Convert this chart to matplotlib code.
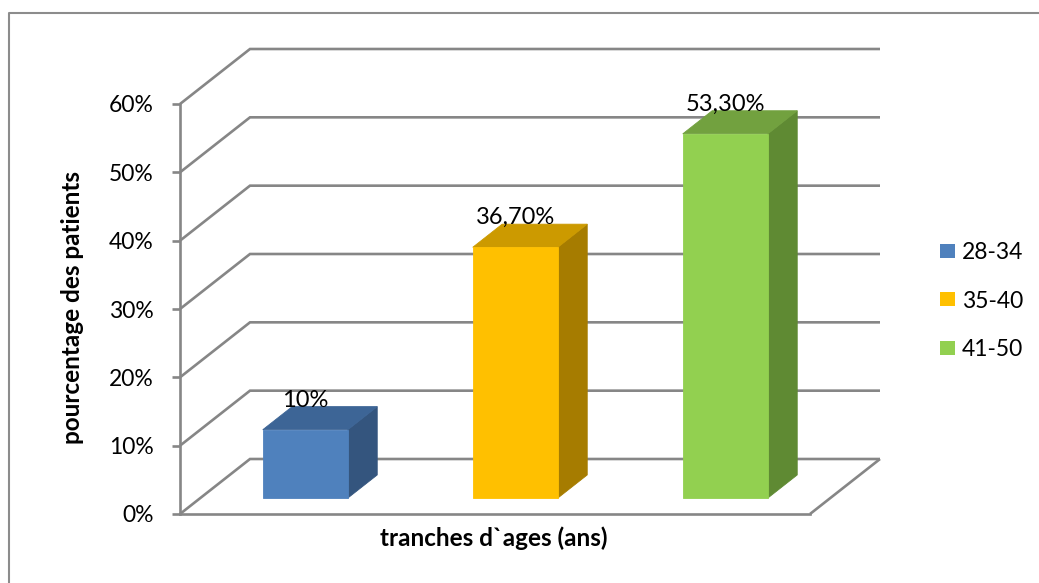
import matplotlib
matplotlib.use("Agg")
import matplotlib.pyplot as plt
from matplotlib.patches import Polygon, Patch
from matplotlib.lines import Line2D
from matplotlib.ticker import FixedLocator
import numpy as np

# ---- data ----
categories = ["28-34", "35-40", "41-50"]
values = [0.10, 0.367, 0.533]
value_labels = ["10%", "36,70%", "53,30%"]
y_ticks = [0.0, 0.1, 0.2, 0.3, 0.4, 0.5, 0.6]
y_tick_labels = ["0%", "10%", "20%", "30%", "40%", "50%", "60%"]
y_title = "pourcentage des patients"
x_title = "tranches d`ages (ans)"

# ---- style ----
front_colors = ["#4F81BD", "#FFC000", "#92D050"]
top_colors = ["#3D6596", "#CC9A00", "#72A13F"]
side_colors = ["#34557E", "#A67C00", "#5F8A33"]
GRID = "#868686"
W, H, DPI = 1039, 583, 100

plt.rcParams["font.family"] = ["Lato", "DejaVu Sans"]

fig = plt.figure(figsize=(W / DPI, H / DPI), dpi=DPI)
fig.patch.set_facecolor("white")


def fx(px):
    return px / W


def fy(py):
    return 1 - py / H


# front plane of the 3-D box
ax = fig.add_axes([fx(180), fy(514), (810 - 180) / W, (514 - 104) / H])
ax.set_xlim(0, len(categories))
ax.set_ylim(0, y_ticks[-1])
ax.patch.set_alpha(0)
for s in ("top", "right"):
    ax.spines[s].set_visible(False)
for s in ("left", "bottom"):
    ax.spines[s].set_color(GRID)
    ax.spines[s].set_linewidth(1.9)
    ax.spines[s].set_zorder(0.5)
ax.set_xticks([])
ax.yaxis.set_major_locator(FixedLocator(y_ticks))
ax.set_yticklabels(y_tick_labels)
ax.tick_params(axis="y", direction="out", length=6, width=1.9, color=GRID,
               pad=13, labelsize=16.5, labelcolor="black")

# depth vector of the box, given in pixels, converted into data units
depth_px = np.array([70.0, 55.0])
origin = ax.transData.transform((0, 0))
dx, dy = ax.transData.inverted().transform(origin + depth_px)


def P(x, y, f):
    return (x + f * dx, y + f * dy)


n = len(categories)
line_kw = dict(color=GRID, lw=1.9, clip_on=False, zorder=1,
               solid_capstyle="butt", solid_joinstyle="miter")

# side-wall diagonals and back-wall gridlines
for v in y_ticks:
    ax.plot([0, dx, n + dx], [v, v + dy, v + dy], **line_kw)
# floor edge on the right
ax.plot([n, n + dx], [0, dy], **line_kw)

# 3-D columns
f0, f1 = 0.29, 0.71
bar_w = 0.405
for i, v in enumerate(values):
    x0 = i + 0.5 - bar_w / 2
    x1 = x0 + bar_w
    faces = [
        ([P(x1, 0, f0), P(x1, 0, f1), P(x1, v, f1), P(x1, v, f0)], side_colors[i]),
        ([P(x0, v, f0), P(x1, v, f0), P(x1, v, f1), P(x0, v, f1)], top_colors[i]),
        ([P(x0, 0, f0), P(x1, 0, f0), P(x1, v, f0), P(x0, v, f0)], front_colors[i]),
    ]
    for pts, c in faces:
        ax.add_patch(Polygon(pts, closed=True, facecolor=c, edgecolor=c,
                             lw=0.6, clip_on=False, zorder=3))
    ax.text(i + 0.5 + f0 * dx, v + f1 * dy, value_labels[i],
            ha="center", va="baseline", fontsize=17, color="black",
            zorder=4, clip_on=False)

# legend
handles = [Patch(facecolor=c, edgecolor="none") for c in front_colors]
fig.legend(handles, categories, loc="center left",
           bbox_to_anchor=(fx(940), fy(301)), frameon=False, fontsize=16.5,
           handlelength=0.65, handleheight=0.55, handletextpad=0.3,
           labelspacing=1.2, borderpad=0, borderaxespad=0)

# axis titles
fig.text(fx(73), fy(308), y_title, rotation=90, ha="center", va="center",
         fontsize=17.5, fontweight="bold")
fig.text(fx(494), fy(538), x_title, ha="center", va="center",
         fontsize=17.5, fontweight="bold")

# chart frame
fig.add_artist(Line2D([fx(9), fx(9), 1.0], [0, fy(13), fy(13)],
                      color="#8C8C8C", lw=1.5, transform=fig.transFigure))

fig.savefig("out.png", dpi=DPI)
